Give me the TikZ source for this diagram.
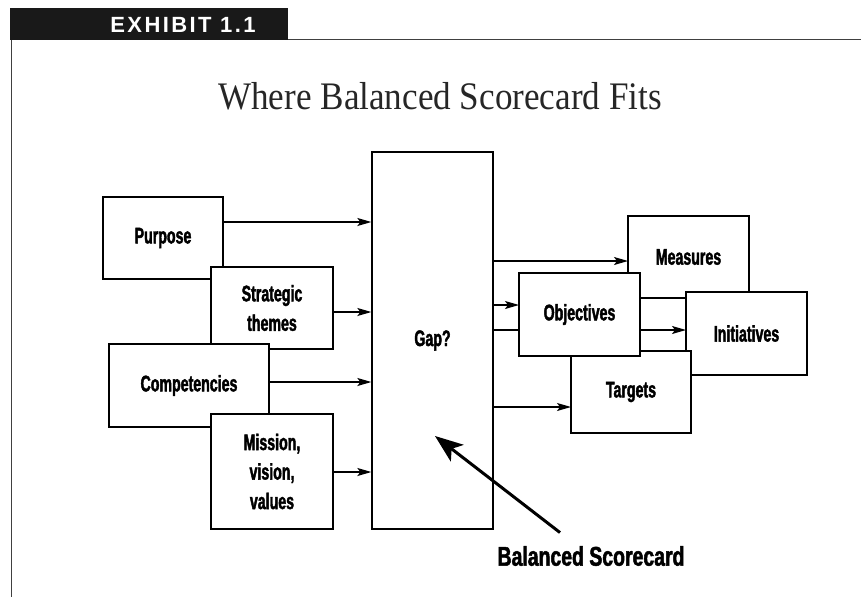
\documentclass[tikz,border=0pt]{standalone}
\usepackage{fontspec}
\setmainfont{Liberation Serif}
\newfontfamily\titlefont[FakeStretch=0.9]{Liberation Serif}
\newfontfamily\boxfont[FakeStretch=0.63,FakeBold=1.8]{Liberation Sans}
\newfontfamily\labelfont[FakeStretch=0.72,FakeBold=1.8]{Liberation Sans}
\newfontfamily\tabfont[LetterSpace=11]{Liberation Sans}
\usetikzlibrary{arrows.meta}

\begin{document}
\begin{tikzpicture}[
                x=1pt, y=-1pt,
                box/.style={draw, fill=white, line width=1.3pt, align=center,
                        inner sep=0pt, minimum width=121pt, minimum height=82pt,
                        font=\boxfont\bfseries\fontsize{22.5}{29.5}\selectfont},
                conn/.style={line width=1.3pt, -{Stealth[length=14pt,width=8pt,inset=3pt]}},
                frame/.style={draw=black!75, line width=1pt}
            ]
            \useasboundingbox (0,0) rectangle (861,597);

            % header tab and frame
            \fill[black!90] (10,8) rectangle (288,40);
            \node[text=white, font=\tabfont\bfseries\fontsize{22}{24}\selectfont] (tab) at (183,25) {EXHIBIT 1.1};
            \draw[frame] (288,39) -- (861,39);
            \draw[frame] (11,40) -- (11,597);

            \node[text=black!85, font=\titlefont\fontsize{39}{42}\selectfont] (title) at (440,96) {Where Balanced Scorecard Fits};

            % left side
            \node[box, minimum width=120pt] (purpose) at (163,238) {Purpose};
            \node[box, minimum width=122pt] (themes) at (272,308) {Strategic\\themes};
            \node[box, minimum width=160pt, minimum height=83pt] (competencies) at (189,385.5) {Competencies};
            \node[box, minimum width=122pt, minimum height=115pt] (mission) at (272,471.5) {Mission,\\vision,\\values};

            \node[box, minimum height=377pt] (gap) at (432.5,340.5) {Gap?};

            \draw[conn] (purpose.east |- 0,222) -- (gap.west |- 0,222);
            \draw[conn] (themes.east |- 0,312) -- (gap.west |- 0,312);
            \draw[conn] (competencies.east |- 0,382) -- (gap.west |- 0,382);
            \draw[conn] (mission.east |- 0,472) -- (gap.west |- 0,472);

            % right side
            \draw[conn] (gap.east |- 0,261) -- (688.5-60.5,261);
            \draw[conn] (gap.east |- 0,305) -- (579.5-60.5,305);
            \draw[conn] (gap.east |- 0,330) -- (746.5-60.5,330);
            \draw[conn] (gap.east |- 0,407) -- (631-60,407);

            \node[box] (measures) at (688.5,257) {Measures};
            \node[box, minimum height=83pt] (initiatives) at (746.5,333.5) {Initiatives};
            \node[box, minimum width=120pt] (targets) at (631,392) {Targets};
            \node[box, minimum height=83pt] (objectives) at (579.5,314.5) {Objectives};

            % pointer
            \node[font=\labelfont\bfseries\fontsize{27}{30}\selectfont] (bsc) at (591,556) {Balanced Scorecard};
            \coordinate (bsctip) at (435,436);
            \draw[line width=3pt, -{Stealth[length=28pt,width=21pt,inset=7pt]}] ([xshift=-31pt,yshift=10pt]bsc.north) -- (bsctip);

        \end{tikzpicture}
\end{document}
